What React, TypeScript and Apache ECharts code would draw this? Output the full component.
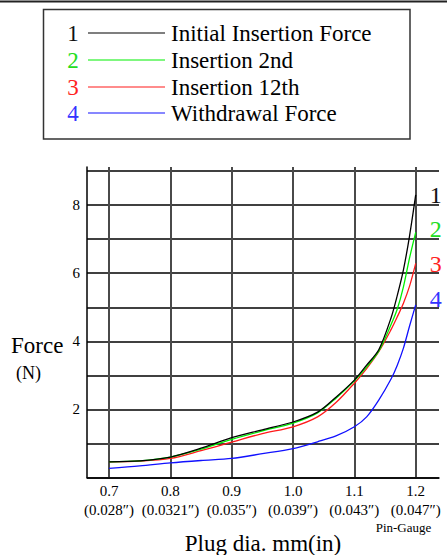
import React, { useEffect, useRef } from "react";
import * as echarts from "echarts";

// Plug diameter (mm) at which the forces were sampled
const diameters = [0.7, 0.75, 0.8, 0.85, 0.9, 0.95, 1.0, 1.04, 1.07, 1.1, 1.12, 1.14, 1.16, 1.17, 1.18, 1.19, 1.2];

// Force (N) per curve
const initialInsertion = [0.46, 0.49, 0.6, 0.86, 1.17, 1.4, 1.63, 1.92, 2.36, 2.86, 3.3, 3.76, 4.7, 5.35, 6.1, 7.1, 8.3];
const insertion2nd = [0.46, 0.49, 0.6, 0.83, 1.12, 1.37, 1.6, 1.9, 2.33, 2.84, 3.25, 3.72, 4.5, 4.95, 5.6, 6.45, 7.2];
const insertion12th = [0.46, 0.48, 0.56, 0.79, 1.04, 1.29, 1.49, 1.78, 2.2, 2.77, 3.2, 3.7, 4.35, 4.72, 5.12, 5.62, 6.29];
const withdrawal = [0.27, 0.34, 0.43, 0.5, 0.56, 0.7, 0.85, 1.05, 1.22, 1.49, 1.78, 2.28, 2.9, 3.3, 3.8, 4.45, 5.07];

// Axis ticks and labels
const xTicks = [0.7, 0.8, 0.9, 1.0, 1.1, 1.2];
const mmLabels = ["0.7", "0.8", "0.9", "1.0", "1.1", "1.2"];
const inchLabels = ["(0.028″)", "(0.0321″)", "(0.035″)", "(0.039″)", "(0.043″)", "(0.047″)"];
const yGridValues = [0, 1, 2, 3, 4, 5, 6, 7, 8, 9];
const yLabelValues = [2, 4, 6, 8];

const seriesNames = ["Initial Insertion Force", "Insertion 2nd", "Insertion 12th", "Withdrawal Force"];
const seriesNumbers = ["1", "2", "3", "4"];

const FONT = "Liberation Serif";
const TEXT_COLOR = "#000";
const lineColors = ["#000000", "#00f000", "#ff1a1a", "#1010ff"];
const numberColors = ["#111111", "#22dd22", "#ff2222", "#3333ff"];

export default function App() {
  const ref = useRef<HTMLDivElement>(null);

  useEffect(() => {
    if (!ref.current) return;
    const chart = echarts.init(ref.current, null, { renderer: "svg" });

    const seriesData = [initialInsertion, insertion2nd, insertion12th, withdrawal];
    const endOffsets: [number, number][] = [
      [6, 0],
      [6, -3],
      [6, 1],
      [6, -6],
    ];

    const legendRowsY = [33, 60, 87, 113];
    const legendGraphics: any[] = [];
    seriesNames.forEach((name, i) => {
      const y = legendRowsY[i];
      legendGraphics.push({
        type: "text",
        x: 73,
        y,
        style: {
          text: seriesNumbers[i],
          fill: numberColors[i],
          fontFamily: FONT,
          fontSize: 23,
          align: "center",
          verticalAlign: "middle",
        },
      });
      legendGraphics.push({
        type: "line",
        shape: { x1: 88, y1: y, x2: 165, y2: y },
        style: { stroke: lineColors[i], lineWidth: 1.2 },
      });
      legendGraphics.push({
        type: "text",
        x: 171,
        y,
        style: {
          text: name,
          fill: TEXT_COLOR,
          fontFamily: FONT,
          fontSize: 23,
          align: "left",
          verticalAlign: "middle",
        },
      });
    });

    chart.setOption({
      animation: false,
      backgroundColor: "#ffffff",
      grid: {
        left: 87,
        right: 8,
        top: 167,
        bottom: 77.5,
        containLabel: false,
        outerBoundsMode: "none",
      },
      xAxis: {
        type: "value",
        min: 0.664,
        max: 1.238,
        name: "Plug dia. mm(in)",
        nameLocation: "middle",
        nameGap: 54,
        nameTextStyle: { fontFamily: FONT, fontSize: 23, color: TEXT_COLOR },
        axisLine: { show: true, lineStyle: { color: "#000", width: 1.5 } },
        axisTick: { show: false, customValues: xTicks },
        axisLabel: {
          customValues: xTicks,
          margin: 4,
          fontFamily: FONT,
          fontSize: 15,
          lineHeight: 19,
          color: TEXT_COLOR,
          formatter: (v: number) => {
            const i = xTicks.findIndex((t) => Math.abs(t - v) < 1e-6);
            return i < 0 ? "" : `${mmLabels[i]}\n${inchLabels[i]}`;
          },
        },
        splitLine: { show: true, lineStyle: { color: "#4a4a4a", width: 2 } },
      },
      yAxis: {
        type: "value",
        min: 0,
        max: 9.12,
        axisLine: { show: true, lineStyle: { color: "#000", width: 1.5 } },
        axisTick: { show: false, customValues: yGridValues },
        axisLabel: {
          customValues: yLabelValues,
          margin: 7,
          fontFamily: FONT,
          fontSize: 15,
          color: TEXT_COLOR,
        },
        splitLine: { show: true, lineStyle: { color: "#000", width: 1.5 } },
      },
      series: seriesData.map((vals, i) => ({
        type: "line",
        name: seriesNames[i],
        data: diameters.map((d, k) => [d, vals[k]]),
        smooth: 0.3,
        showSymbol: false,
        z: 10 - i,
        lineStyle: { color: lineColors[i], width: 1.3 },
        endLabel: {
          show: true,
          formatter: seriesNumbers[i],
          color: numberColors[i],
          fontFamily: FONT,
          fontSize: 24,
          offset: endOffsets[i],
        },
      })),
      graphic: [
        {
          type: "line",
          shape: { x1: 0, y1: 1.5, x2: 447, y2: 1.5 },
          style: { stroke: "#222", lineWidth: 2 },
        },
        {
          type: "rect",
          shape: { x: 43.5, y: 9.5, width: 366.5, height: 129.5 },
          style: { fill: "none", stroke: "#333", lineWidth: 1.5 },
        },
        ...legendGraphics,
        {
          type: "text",
          x: 11,
          y: 345,
          style: { text: "Force", fill: TEXT_COLOR, fontFamily: FONT, fontSize: 23, verticalAlign: "middle" },
        },
        {
          type: "text",
          x: 16,
          y: 373,
          style: { text: "(N)", fill: TEXT_COLOR, fontFamily: FONT, fontSize: 18, verticalAlign: "middle" },
        },
        {
          type: "text",
          x: 403.5,
          y: 527,
          style: {
            text: "Pin-Gauge",
            fill: TEXT_COLOR,
            fontFamily: FONT,
            fontSize: 13,
            align: "center",
            verticalAlign: "middle",
          },
        },
      ],
    });

    return () => chart.dispose();
  }, []);

  return (
    <div
      ref={ref}
      style={{ position: "fixed", left: 0, top: 0, width: 447, height: 555 }}
    />
  );
}
